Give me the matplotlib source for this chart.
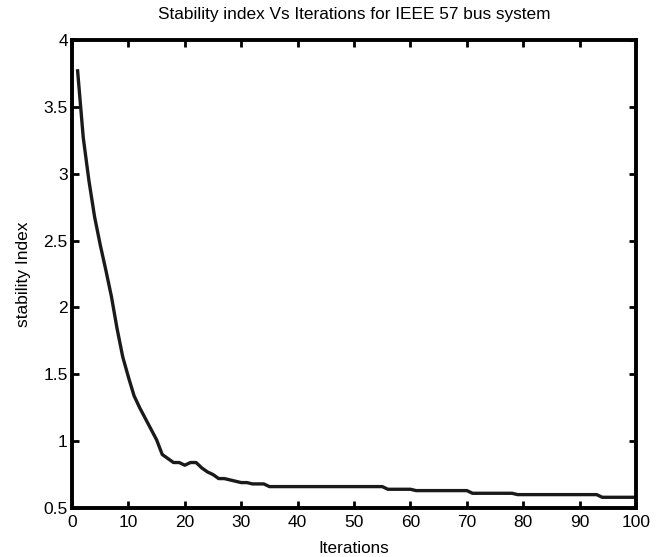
import matplotlib
matplotlib.use("Agg")
import matplotlib.pyplot as plt

# values (breakpoints of the curve)
iterations = [1, 2, 3, 4, 5, 6, 7, 8, 9, 10, 11, 12, 13, 14, 15, 16, 17, 18, 19, 20,
              21, 22, 23, 24, 25, 26, 27, 28, 29, 30, 31, 32, 33, 34, 35, 55, 56, 60,
              61, 70, 71, 78, 79, 93, 94, 100]
stability = [3.77, 3.27, 2.95, 2.68, 2.47, 2.28, 2.08, 1.84, 1.63, 1.48, 1.34, 1.25,
             1.17, 1.09, 1.01, 0.90, 0.87, 0.84, 0.84, 0.82, 0.84, 0.84, 0.80, 0.77,
             0.75, 0.72, 0.72, 0.71, 0.70, 0.69, 0.69, 0.68, 0.68, 0.68, 0.66, 0.66,
             0.64, 0.64, 0.63, 0.63, 0.61, 0.61, 0.60, 0.60, 0.58, 0.58]

xticks = [0, 10, 20, 30, 40, 50, 60, 70, 80, 90, 100]
yticks = [0.5, 1, 1.5, 2, 2.5, 3, 3.5, 4]
ytick_labels = ["0.5", "1", "1.5", "2", "2.5", "3", "3.5", "4"]

plt.rcParams["font.family"] = ["Liberation Sans", "DejaVu Sans"]

fig = plt.figure(figsize=(6.64, 5.57), dpi=100)
ax = fig.add_axes([0.1084, 0.088, 0.8496, 0.84])

ax.plot(iterations, stability, color="#1a1a1a", linewidth=2.4, solid_joinstyle="round")

ax.set_xlim(0, 100)
ax.set_ylim(0.5, 4)
ax.set_xticks(xticks)
ax.set_yticks(yticks)
ax.set_yticklabels(ytick_labels)
ax.tick_params(direction="in", length=5, width=2, top=True, right=True,
               labelsize=12.5)
ax.tick_params(axis="x", pad=5)
ax.tick_params(axis="y", pad=3)
for s in ax.spines.values():
    s.set_linewidth(2.8)

ax.set_title("Stability index Vs Iterations for IEEE 57 bus system", fontsize=12.4, pad=15)
ax.set_xlabel("Iterations", fontsize=12.3, labelpad=8)
ax.set_ylabel("stability Index", fontsize=12.5, labelpad=9)

fig.savefig("out.png", dpi=100)
